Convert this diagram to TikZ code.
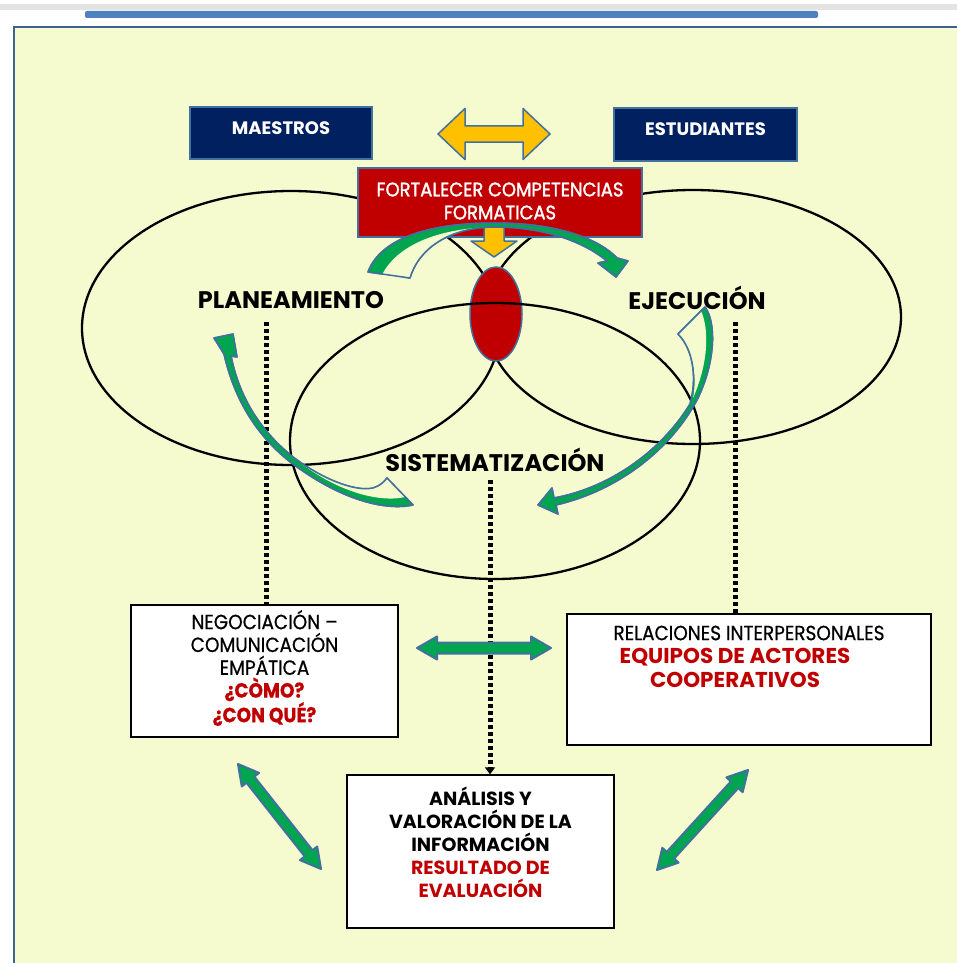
\documentclass[tikz,border=0pt]{standalone}
\usepackage{fontspec}
\setmainfont{Poppins}
\newfontfamily\condfont[FakeStretch=0.9,FakeBold=0.6]{Poppins}
\newfontfamily\fortfont[FakeStretch=0.92,FakeBold=1.6]{Poppins}
\usetikzlibrary{calc,arrows.meta,shapes.geometric}
\definecolor{bgy}{HTML}{F5FACF}
\definecolor{navy}{HTML}{002060}
\definecolor{redb}{HTML}{C00000}
\definecolor{ylw}{HTML}{FFC000}
\definecolor{bord}{HTML}{41719C}
\definecolor{grn}{HTML}{00A550}
\definecolor{framec}{HTML}{3C6491}
\definecolor{barb}{HTML}{4F81BD}
\definecolor{gryband}{HTML}{E4E4E4}
\newcommand{\dblarrow}[6]{%
  \coordinate (qa) at ($(#1)!#5!(#2)$);
  \coordinate (qb) at ($(#2)!#5!(#1)$);
  \filldraw[#6] (#1) -- ($(qa)!#4!90:(#2)$) -- ($(qa)!#3!90:(#2)$) -- ($(qb)!#3!-90:(#1)$) -- ($(qb)!#4!-90:(#1)$) -- (#2) -- ($(qb)!#4!90:(#1)$) -- ($(qb)!#3!90:(#1)$) -- ($(qa)!#3!-90:(#2)$) -- ($(qa)!#4!-90:(#2)$) -- cycle;}
\tikzset{
 ell/.style={draw=black, line width=2.3pt},
 navybox/.style={fill=navy, draw=bord, line width=1.5pt, inner sep=0pt},
 redbox/.style={fill=redb, draw=bord, line width=1.5pt, inner sep=0pt},
 whitebox/.style={fill=white, draw=black, line width=1.4pt, inner sep=0pt},
 boxtxt/.style={align=center, inner sep=0pt},
 dotline/.style={draw=black, line width=5pt, dash pattern=on 4pt off 3pt},
 yarrow/.style={fill=ylw, draw=bord, line width=1.5pt, line join=round},
 garrow/.style={fill=grn, draw=bord, line width=2pt, line join=round},
 cband/.style={fill=grn, draw=bord, line width=1.5pt, line join=round},
 pale/.style={fill=bgy},
 bigtxt/.style={font=\bfseries\fontsize{24}{28}\selectfont, inner sep=0pt},
 whitetxt/.style={font=\bfseries\fontsize{18}{21}\selectfont, text=white, inner sep=0pt},
}
\begin{document}
\begin{tikzpicture}[x=1pt,y=-1pt]
\useasboundingbox (0,0) rectangle (957,963);
\fill[white] (0,0) rectangle (957,963);
\fill[gryband] (0,4) rectangle (957,10);
\fill[barb, rounded corners=2pt] (85,11) rectangle (818,18);
\filldraw[fill=bgy, draw=framec, line width=2.5pt] (14,27) rectangle (970,980);

% ellipses
\draw[ell] (291,328) ellipse [x radius=209pt, y radius=137pt];
\draw[ell] (693,317) ellipse [x radius=208pt, y radius=127pt];
\node (core) [ellipse, fill=redb, draw=bord, line width=1.5pt, minimum width=52pt, minimum height=94pt, inner sep=0pt] at (496,314) {};
\draw[ell] (495,441) ellipse [x radius=205pt, y radius=138pt];

% bottom boxes
\node (neg) [whitebox, minimum width=267pt, minimum height=132pt] at (264.5,671) {};
\node (rel) [whitebox, minimum width=364pt, minimum height=131pt] at (749,679.5) {};
\node (ana) [whitebox, minimum width=267pt, minimum height=153pt] at (480.5,851.5) {};

% dotted connectors
\coordinate (dL) at (266,322);
\coordinate (dR) at (735,322);
\coordinate (dM) at (490,480);
\draw[dotline] (dL) -- (dL |- neg.north);
\draw[dotline] (dR) -- (dR |- rel.north);
\draw[dotline, -{Triangle[length=7pt,width=10pt]}] (dM) -- (dM |- ana.north);

% top boxes
\node (mae) [navybox, minimum width=182pt, minimum height=52pt] at (281,133) {};
\node (est) [navybox, minimum width=183pt, minimum height=53pt] at (705.5,134.5) {};
\node (fort) [redbox, minimum width=284pt, minimum height=69pt] at (500,202.5) {};
\node (maet) [whitetxt] at (281,128) {MAESTROS};
\node (estt) [whitetxt] at (705.5,129) {ESTUDIANTES};
\node (fortt) [boxtxt, text=white, font=\fortfont\fontsize{19.5}{23}\selectfont] at (500,201) {FORTALECER COMPETENCIAS\\FORMATICAS};

% yellow arrows
\coordinate (yA) at (438,134);
\coordinate (yB) at (550,134);
\dblarrow{yA}{yB}{8pt}{25.5pt}{27pt}{yarrow}
\filldraw[yarrow] (484,226) -- (504,226) -- (504,241) -- (517,241) -- (494,257) -- (471,241) -- (484,241) -- cycle;

% curved arrow top
\filldraw[cband] (368,272) .. controls (380,240) and (425,223) .. (495,223) .. controls (560,223) and (600,240) .. (617,258) -- (628,261) -- (616,277) -- (598,263) -- (607,261) .. controls (588,245) and (550,227) .. (495,227) .. controls (448,227) and (418,250) .. (410,278) -- cycle;
\fill[pale] (381,277) .. controls (393,250) and (430,228) .. (495,227) .. controls (448,227) and (418,250) .. (410,278) -- cycle;
\draw[cband, fill=none] (368,272) .. controls (380,240) and (425,223) .. (495,223) .. controls (560,223) and (600,240) .. (617,258) -- (628,261) -- (616,277) -- (598,263) -- (607,261) .. controls (588,245) and (550,227) .. (495,227) .. controls (448,227) and (418,250) .. (410,278) -- cycle;

% curved arrow left
\filldraw[cband] (214,338) -- (233,334) -- (237,357) -- (231,356) .. controls (240,400) and (262,432) .. (293,457) .. controls (322,479) and (355,492) .. (373,488) .. controls (380,486) and (384,482) .. (387,478) -- (413,505) .. controls (385,511) and (340,500) .. (289,461) .. controls (258,436) and (235,402) .. (224,354) -- cycle;
\fill[pale] (293,457) .. controls (322,479) and (355,492) .. (373,488) .. controls (380,486) and (384,482) .. (387,478) -- (405,497) .. controls (380,503) and (335,492) .. (293,457) -- cycle;
\draw[cband, fill=none] (214,338) -- (233,334) -- (237,357) -- (231,356) .. controls (240,400) and (262,432) .. (293,457) .. controls (322,479) and (355,492) .. (373,488) .. controls (380,486) and (384,482) .. (387,478) -- (413,505) .. controls (385,511) and (340,500) .. (289,461) .. controls (258,436) and (235,402) .. (224,354) -- cycle;

% curved arrow right
\filldraw[cband] (705,307) .. controls (716,322) and (716,360) .. (698,398) .. controls (672,448) and (620,490) .. (556,505) -- (558,514) -- (538,505) -- (552,488) -- (554,498) .. controls (614,487) and (664,447) .. (690,404) .. controls (697,380) and (694,350) .. (678,334) -- cycle;
\fill[pale] (701,311) .. controls (709,328) and (709,362) .. (693,398) .. controls (697,380) and (694,350) .. (678,334) -- cycle;
\draw[cband, fill=none] (705,307) .. controls (716,322) and (716,360) .. (698,398) .. controls (672,448) and (620,490) .. (556,505) -- (558,514) -- (538,505) -- (552,488) -- (554,498) .. controls (614,487) and (664,447) .. (690,404) .. controls (697,380) and (694,350) .. (678,334) -- cycle;

% labels
\node (plan) [bigtxt] at (291,300) {PLANEAMIENTO};
\node (ejec) [bigtxt] at (697,298) {EJECUCIÓN};
\node (sist) [bigtxt] at (495,460) {SISTEMATIZACIÓN};

% box texts
\node (negt) [boxtxt, font=\condfont\fontsize{20.5}{22.8}\selectfont] at (264.5,668) {NEGOCIACIÓN –\\COMUNICACIÓN\\EMPÁTICA\\\textcolor{redb}{\bfseries ¿CÒMO?}\\\textcolor{redb}{\bfseries ¿CON QUÉ?}};
\node (relt) [boxtxt, font=\condfont\fontsize{20.5}{23.5}\selectfont] at (749,656.5) {RELACIONES INTERPERSONALES\\\textcolor{redb}{\normalfont\bfseries\fontsize{21.5}{23.5}\selectfont EQUIPOS DE ACTORES}\rule{28pt}{0pt}\\\textcolor{redb}{\normalfont\bfseries\fontsize{21.5}{23.5}\selectfont COOPERATIVOS}\rule{28pt}{0pt}};
\node (anat) [boxtxt, font=\bfseries\fontsize{19}{23}\selectfont] at (480.5,842) {ANÁLISIS Y\\VALORACIÓN DE LA\\INFORMACIÓN\\\textcolor{redb}{RESULTADO DE}\\\textcolor{redb}{EVALUACIÓN}};

% green block arrows
\coordinate (gA) at (417,648);
\coordinate (gB) at (551,648);
\dblarrow{gA}{gB}{5.5pt}{11.5pt}{20pt}{garrow}
\coordinate (lA) at (238,764);
\coordinate (lB) at (321,869);
\dblarrow{lA}{lB}{5pt}{11pt}{20pt}{garrow}
\coordinate (rA) at (748,770);
\coordinate (rB) at (657,870);
\dblarrow{rA}{rB}{5pt}{11pt}{20pt}{garrow}
\end{tikzpicture}
\end{document}
